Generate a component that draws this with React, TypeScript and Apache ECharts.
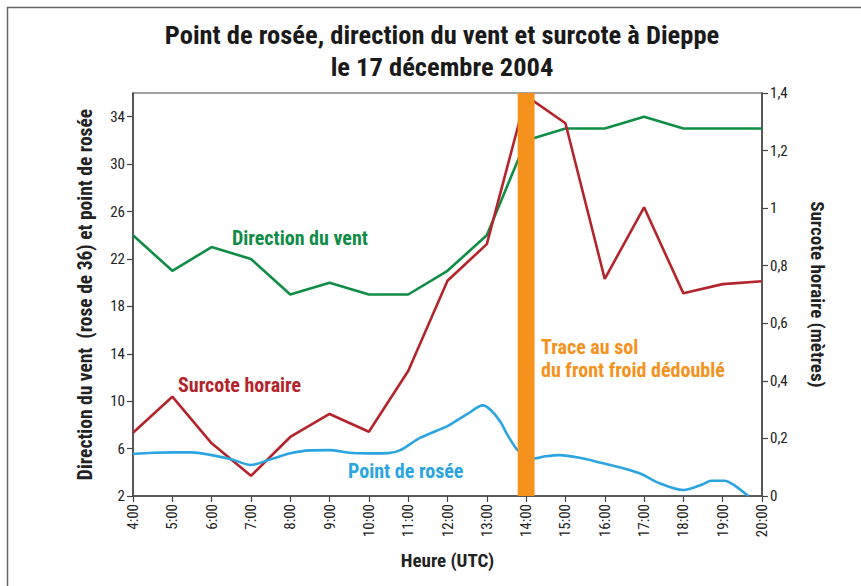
import React, { useEffect, useRef } from "react";
import * as echarts from "echarts";

const FONT = '"Roboto Condensed", "DejaVu Sans Condensed", "Liberation Sans Narrow", "Noto Sans Condensed", "Open Sans Condensed", Roboto, sans-serif';

const titleLines = ["Point de rosée, direction du vent et surcote à Dieppe", "le 17 décembre 2004"];
const hours = [4, 5, 6, 7, 8, 9, 10, 11, 12, 13, 14, 15, 16, 17, 18, 19, 20];
const windDirection = [24, 21, 23, 22, 19, 20, 19, 19, 21, 24, 32, 33, 33, 34, 33, 33, 33];
const surcote = [0.22, 0.345, 0.183, 0.07, 0.205, 0.285, 0.223, 0.434, 0.748, 0.875, 1.39, 1.295, 0.754, 1.003, 0.704, 0.736, 0.746];
const dewHours = [4, 4.5, 5, 5.5, 6, 6.5, 7, 7.5, 8, 8.5, 9, 9.5, 10, 10.5, 10.8, 11.3, 12, 12.2, 12.5, 12.9, 13.1, 13.35, 13.5, 13.75, 14, 14.2, 14.5, 14.85, 15.4, 15.9, 16.4, 16.9, 17.4, 18, 18.5, 18.7, 19.05, 19.3, 19.65];
const dewPoint = [5.55, 5.65, 5.68, 5.68, 5.45, 5.1, 4.62, 5.1, 5.6, 5.85, 5.87, 5.65, 5.6, 5.62, 5.87, 6.9, 7.9, 8.3, 8.9, 9.65, 9.25, 8.25, 7.3, 6.0, 5.3, 5.17, 5.35, 5.45, 5.2, 4.8, 4.4, 3.9, 3.07, 2.5, 3.0, 3.29, 3.29, 2.9, 2.0];
const leftTicks = [2, 6, 10, 14, 18, 22, 26, 30, 34];
const frontBand = [13.785, 14.215];

const GREEN = "#0f8c46";
const RED = "#b3242d";
const BLUE = "#2aa5e0";
const ORANGE = "#f5921e";
const AXIS = "#444";

export default function App() {
  const ref = useRef<HTMLDivElement>(null);
  useEffect(() => {
    if (!ref.current) return;
    const chart = echarts.init(ref.current, null, { renderer: "svg" });
    const tickLabel = { fontFamily: FONT, fontSize: 15, color: "#222" };
    const nameStyle = { fontFamily: FONT, fontSize: 19, fontWeight: "bold" as const, color: "#222" };
    const titleStyle = { fontFamily: FONT, fontSize: 26.5, fontWeight: "bold" as const, color: "#1a1a1a", lineHeight: 26.5 };
    chart.setOption({
      animation: false,
      backgroundColor: "#fff",
      title: [
        { text: titleLines[0], left: 442, top: 21.5, textAlign: "center", padding: 0, textStyle: titleStyle },
        { text: titleLines[1], left: 442, top: 53.5, textAlign: "center", padding: 0, textStyle: titleStyle },
      ],
      grid: { left: 133, right: 99, top: 93, bottom: 90, show: true, borderColor: AXIS, borderWidth: 1.2, backgroundColor: "transparent" },
      xAxis: {
        type: "value",
        min: 4,
        max: 20,
        interval: 1,
        name: "Heure (UTC)",
        nameLocation: "middle",
        nameGap: 55,
        nameTextStyle: nameStyle,
        axisLine: { lineStyle: { color: AXIS, width: 1.5 } },
        axisTick: { show: true, length: 6, lineStyle: { color: AXIS, width: 1.2 } },
        axisLabel: { ...tickLabel, rotate: 90, margin: 8, formatter: (v: number) => `${v}:00` },
        splitLine: { show: false },
      },
      yAxis: [
        {
          type: "value",
          min: 2,
          max: 36,
          position: "left",
          name: "Direction du vent  (rose de 36) et point de rosée",
          nameLocation: "middle",
          nameRotate: 90,
          nameGap: 38,
          nameTextStyle: { ...nameStyle, fontSize: 19.5 },
          axisLine: { show: true, lineStyle: { color: AXIS, width: 1.5 } },
          axisTick: { show: true, length: 6, customValues: leftTicks, lineStyle: { color: AXIS, width: 1.2 } },
          axisLabel: { ...tickLabel, margin: 8, customValues: leftTicks },
          splitLine: { show: false },
        },
        {
          type: "value",
          min: 0,
          max: 1.4,
          interval: 0.2,
          position: "right",
          name: "Surcote horaire (mètres)",
          nameLocation: "middle",
          nameRotate: -90,
          nameGap: 46,
          nameTextStyle: nameStyle,
          axisLine: { show: true, lineStyle: { color: AXIS, width: 1.5 } },
          axisTick: { show: true, length: 6, lineStyle: { color: AXIS, width: 1.2 } },
          axisLabel: { ...tickLabel, margin: 8, formatter: (v: number) => String(+v.toFixed(1)).replace(".", ",") },
          splitLine: { show: false },
        },
      ],
      series: [
        {
          name: "Direction du vent",
          type: "line",
          yAxisIndex: 0,
          data: hours.map((h, i) => [h, windDirection[i]]),
          showSymbol: false,
          lineStyle: { color: GREEN, width: 2.6 },
          itemStyle: { color: GREEN },
          z: 2,
        },
        {
          name: "Surcote horaire",
          type: "line",
          yAxisIndex: 1,
          data: hours.map((h, i) => [h, surcote[i]]),
          showSymbol: false,
          lineStyle: { color: RED, width: 2.6 },
          itemStyle: { color: RED },
          z: 2,
        },
        {
          name: "Point de rosée",
          type: "line",
          yAxisIndex: 0,
          data: dewHours.map((h, i) => [h, dewPoint[i]]),
          showSymbol: false,
          smooth: 0.3,
          lineStyle: { color: BLUE, width: 2.6 },
          itemStyle: { color: BLUE },
          z: 2,
        },
        {
          name: "Front",
          type: "custom",
          yAxisIndex: 0,
          silent: true,
          z: 10,
          data: [[frontBand[0], frontBand[1]]],
          renderItem: (params: any, api: any) => {
            const p0 = api.coord([api.value(0), 36]);
            const p1 = api.coord([api.value(1), 2]);
            return {
              type: "rect",
              shape: { x: p0[0], y: p0[1], width: p1[0] - p0[0], height: p1[1] - p0[1] },
              style: { fill: ORANGE },
            };
          },
        },
      ],
      graphic: [
        { type: "rect", shape: { x: 7.5, y: 7.5, width: 900, height: 700 }, style: { fill: "none", stroke: "#666", lineWidth: 1.5 }, silent: true },
        { type: "text", x: 232, y: 238, style: { text: "Direction du vent", fill: GREEN, font: `bold 20px ${FONT}`, textVerticalAlign: "middle" } },
        { type: "text", x: 178, y: 385, style: { text: "Surcote horaire", fill: RED, font: `bold 20px ${FONT}`, textVerticalAlign: "middle" } },
        { type: "text", x: 348, y: 471, style: { text: "Point de rosée", fill: BLUE, font: `bold 20px ${FONT}`, textVerticalAlign: "middle" } },
        { type: "text", x: 541, y: 347, style: { text: "Trace au sol", fill: ORANGE, font: `bold 20px ${FONT}`, textVerticalAlign: "middle" } },
        { type: "text", x: 541, y: 370, style: { text: "du front froid dédoublé", fill: ORANGE, font: `bold 20px ${FONT}`, textVerticalAlign: "middle" } },
      ],
    });
    return () => chart.dispose();
  }, []);
  return <div ref={ref} style={{ position: "fixed", left: 0, top: 0, width: 861, height: 586, background: "#fff" }} />;
}
